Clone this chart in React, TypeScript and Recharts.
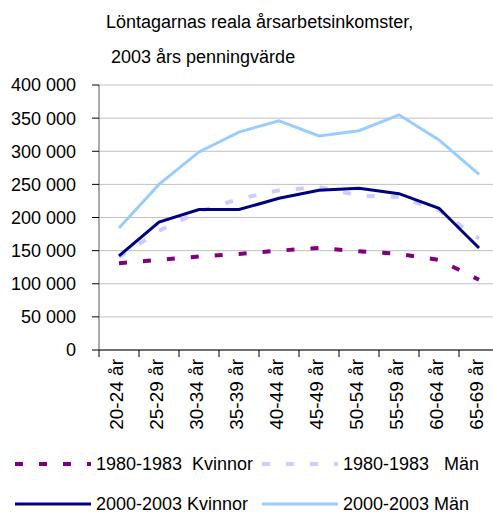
import { LineChart, Line, XAxis, YAxis, CartesianGrid, Legend } from 'recharts';

const FONT = '"Liberation Sans", Arial, sans-serif';

const ageGroups = [
  '20-24 år', '25-29 år', '30-34 år', '35-39 år', '40-44 år',
  '45-49 år', '50-54 år', '55-59 år', '60-64 år', '65-69 år',
];

const kvinnor1980 = [131000, 136000, 141000, 145000, 150000, 154000, 149000, 145000, 136000, 106000];
const man1980 = [140000, 180000, 209000, 228000, 241000, 246000, 233000, 231000, 211000, 168000];
const kvinnor2000 = [142000, 193000, 212000, 212000, 229000, 241000, 244000, 236000, 214000, 154000];
const man2000 = [184000, 250000, 299000, 329000, 346000, 323000, 331000, 355000, 317000, 265000];

const yTicks = [0, 50000, 100000, 150000, 200000, 250000, 300000, 350000, 400000];

const series = [
  { key: 'k1980', name: '1980-1983  Kvinnor', color: '#800080', width: 4, dash: '8 16' },
  { key: 'm1980', name: '1980-1983   Män', color: '#CCCCFF', width: 4, dash: '8 16' },
  { key: 'k2000', name: '2000-2003 Kvinnor', color: '#000080', width: 3, dash: undefined },
  { key: 'm2000', name: '2000-2003 Män', color: '#99CCFF', width: 3, dash: undefined },
];

const data = ageGroups.map((age, i) => ({
  age,
  k1980: kvinnor1980[i],
  m1980: man1980[i],
  k2000: kvinnor2000[i],
  m2000: man2000[i],
}));

function formatThousands(v: number): string {
  return String(v).replace(/\B(?=(\d{3})+(?!\d))/g, ' ');
}

// category labels sit in the middle of each band, tick marks on the band edges
function AgeTick(props: any) {
  const { x, y, payload } = props;
  return (
    <g>
      <line x1={x - 20} x2={x - 20} y1={y} y2={y + 7} stroke="#000" />
      <text
        x={x}
        y={y + 9}
        transform={`rotate(-90 ${x} ${y + 9})`}
        textAnchor="end"
        dy={4}
        fontSize={19}
        fontFamily={FONT}
        fill="#000"
      >
        {payload.value}
      </text>
    </g>
  );
}

function ChartLegend() {
  const cols = [15, 262];
  const rows = [19, 59];
  return (
    <svg width={493} height={70} style={{ display: 'block' }}>
      {series.map((s, i) => {
        const x0 = cols[i % 2];
        const cy = rows[Math.floor(i / 2)];
        return (
          <g key={s.key}>
            <line
              x1={x0}
              x2={x0 + 76}
              y1={cy}
              y2={cy}
              stroke={s.color}
              strokeWidth={s.width}
              strokeDasharray={s.dash}
            />
            <text x={x0 + 81} y={cy + 6} fontSize={18} fontFamily={FONT} fill="#000" style={{ whiteSpace: 'pre' }}>
              {s.name}
            </text>
          </g>
        );
      })}
    </svg>
  );
}

export default function App() {
  return (
    <div style={{ position: 'absolute', left: 0, top: 0, width: 493, height: 513, overflow: 'hidden', background: '#fff' }}>
      <svg width={493} height={70} style={{ position: 'absolute', left: 0, top: 0 }}>
        <text x={106} y={28} fontSize={18} fontFamily={FONT} fill="#000">
          Löntagarnas reala årsarbetsinkomster,
        </text>
        <text x={111} y={63} fontSize={18} fontFamily={FONT} fill="#000">
          2003 års penningvärde
        </text>
      </svg>
      <LineChart
        width={510}
        height={513}
        data={data}
        margin={{ top: 85, right: 11, left: 0, bottom: 63 }}
      >
        <CartesianGrid horizontal vertical={false} stroke="#C0C0C0" />
        <XAxis
          dataKey="age"
          interval={0}
          height={100}
          padding={{ left: 20, right: 20 }}
          tickSize={0}
          tickMargin={0}
          tickLine={false}
          axisLine={{ stroke: '#000' }}
          tick={<AgeTick />}
        />
        <YAxis
          width={99}
          domain={[0, 400000]}
          ticks={yTicks}
          interval={0}
          tickSize={7}
          tickMargin={16}
          tickFormatter={formatThousands}
          axisLine={{ stroke: '#555' }}
          tickLine={{ stroke: '#000' }}
          tick={{ fontSize: 18, fontFamily: FONT, fill: '#000' }}
        />
        <Legend
          layout="horizontal"
          align="center"
          verticalAlign="middle"
          wrapperStyle={{ top: 445, left: 0, width: 493 }}
          content={() => <ChartLegend />}
        />
        {series.map((s) => (
          <Line
            key={s.key}
            type="linear"
            dataKey={s.key}
            name={s.name}
            stroke={s.color}
            strokeWidth={s.width}
            strokeDasharray={s.dash}
            dot={false}
            activeDot={false}
            isAnimationActive={false}
          />
        ))}
      </LineChart>
    </div>
  );
}
